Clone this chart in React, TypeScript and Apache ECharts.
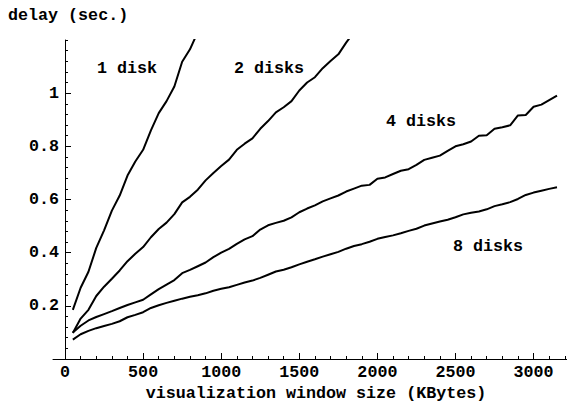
import React, { useEffect, useRef } from 'react';
import * as echarts from 'echarts';

// Window sizes (KBytes) at which delays were measured
const windowSizes = [
  50, 100, 150, 200, 250, 300, 350, 400, 450, 500, 550, 600, 650, 700, 750, 800,
  850, 900, 950, 1000, 1050, 1100, 1150, 1200, 1250, 1300, 1350, 1400, 1450, 1500,
  1550, 1600, 1650, 1700, 1750, 1800, 1850, 1900, 1950, 2000, 2050, 2100, 2150,
  2200, 2250, 2300, 2350, 2400, 2450, 2500, 2550, 2600, 2650, 2700, 2750, 2800,
  2850, 2900, 2950, 3000, 3050, 3100, 3150,
];

// delay (sec.) per configuration
const disk1 = [
  0.185, 0.268, 0.328, 0.418, 0.484, 0.558, 0.615, 0.69, 0.743, 0.787, 0.86, 0.925,
  0.97, 1.025, 1.118, 1.165, 1.23,
];
const disk2 = [
  0.098, 0.152, 0.185, 0.237, 0.272, 0.302, 0.333, 0.368, 0.396, 0.421, 0.458, 0.489,
  0.513, 0.545, 0.589, 0.61, 0.637, 0.672, 0.7, 0.726, 0.75, 0.787, 0.81, 0.83, 0.866,
  0.895, 0.928, 0.947, 0.97, 1.01, 1.04, 1.06, 1.094, 1.121, 1.146, 1.19, 1.23,
];
const disk4 = [
  0.1, 0.125, 0.145, 0.158, 0.169, 0.18, 0.192, 0.203, 0.213, 0.223, 0.243, 0.263,
  0.28, 0.297, 0.323, 0.335, 0.349, 0.363, 0.383, 0.4, 0.414, 0.433, 0.45, 0.462,
  0.487, 0.503, 0.512, 0.52, 0.533, 0.552, 0.566, 0.578, 0.593, 0.604, 0.615, 0.63,
  0.641, 0.652, 0.655, 0.678, 0.683, 0.696, 0.708, 0.714, 0.73, 0.749, 0.757, 0.765,
  0.783, 0.8, 0.808, 0.818, 0.84, 0.842, 0.866, 0.872, 0.879, 0.916, 0.918, 0.949,
  0.957, 0.974, 0.991,
];
const disk8 = [
  0.073, 0.093, 0.106, 0.116, 0.124, 0.132, 0.142, 0.157, 0.166, 0.176, 0.192, 0.202,
  0.211, 0.219, 0.227, 0.234, 0.24, 0.247, 0.257, 0.264, 0.27, 0.279, 0.288, 0.295,
  0.305, 0.317, 0.329, 0.336, 0.345, 0.356, 0.366, 0.375, 0.385, 0.394, 0.403, 0.415,
  0.425, 0.432, 0.441, 0.452, 0.459, 0.465, 0.473, 0.482, 0.49, 0.502, 0.51, 0.517,
  0.524, 0.533, 0.544, 0.55, 0.555, 0.563, 0.575, 0.582, 0.59, 0.602, 0.617, 0.626,
  0.633, 0.64, 0.646,
];

const seriesNames = ['1 disk', '2 disks', '4 disks', '8 disks'];

// Tick positions
const xMajorTicks = [0, 500, 1000, 1500, 2000, 2500, 3000];
const xMinorTicks = [
  0, 100, 200, 300, 400, 500, 600, 700, 800, 900, 1000, 1100, 1200, 1300, 1400, 1500,
  1600, 1700, 1800, 1900, 2000, 2100, 2200, 2300, 2400, 2500, 2600, 2700, 2800, 2900,
  3000, 3100, 3200,
];
const yMajorTicks = [0.2, 0.4, 0.6, 0.8, 1];
const yMinorTicks = [
  0.04, 0.08, 0.12, 0.16, 0.2, 0.24, 0.28, 0.32, 0.36, 0.4, 0.44, 0.48, 0.52, 0.56,
  0.6, 0.64, 0.68, 0.72, 0.76, 0.8, 0.84, 0.88, 0.92, 0.96, 1, 1.04, 1.08, 1.12, 1.16,
  1.2,
];

const FONT = "'Liberation Mono', 'Courier New', monospace";
const FS = 16.7;

export default function App() {
  const ref = useRef<HTMLDivElement>(null);

  useEffect(() => {
    if (!ref.current) return;
    const chart = echarts.init(ref.current, undefined, { renderer: 'svg' });
    const all = [disk1, disk2, disk4, disk8];
    const textStyle = { fontFamily: FONT, fontWeight: 'bold' as const, fontSize: FS, fill: '#000' };
    chart.setOption({
      animation: false,
      backgroundColor: '#fff',
      grid: { left: 53, right: 0, top: 40, bottom: 43, containLabel: false },
      xAxis: [
        {
          type: 'value',
          min: -77,
          max: 3214,
          position: 'bottom',
          axisLine: { show: true, lineStyle: { color: '#000', width: 1 } },
          axisTick: { show: true, inside: true, length: 3, customValues: xMinorTicks, lineStyle: { color: '#000' } },
          axisLabel: { show: false },
          splitLine: { show: false },
        },
        {
          type: 'value',
          min: -77,
          max: 3214,
          position: 'bottom',
          axisLine: { show: true, lineStyle: { color: 'rgba(0,0,0,0)' } },
          axisTick: { show: true, inside: true, length: 6, customValues: xMajorTicks, lineStyle: { color: '#000' } },
          axisLabel: {
            show: true,
            customValues: xMajorTicks,
            formatter: (v: number) => String(v),
            margin: 5,
            color: '#000',
            fontFamily: FONT,
            fontWeight: 'bold',
            fontSize: FS,
          },
          splitLine: { show: false },
        },
      ],
      yAxis: [
        {
          type: 'value',
          min: 0,
          max: 1.2,
          position: 'left',
          axisLine: { show: true, onZero: true, onZeroAxisIndex: 0, lineStyle: { color: '#000', width: 1 } },
          axisTick: { show: true, inside: true, length: 3, customValues: yMinorTicks, lineStyle: { color: '#000' } },
          axisLabel: { show: false },
          splitLine: { show: false },
        },
        {
          type: 'value',
          min: 0,
          max: 1.2,
          position: 'left',
          offset: -12,
          axisLine: { show: false, onZero: false },
          axisTick: { show: true, inside: true, length: 6, customValues: yMajorTicks, lineStyle: { color: '#000' } },
          axisLabel: {
            show: true,
            customValues: yMajorTicks,
            formatter: (v: number) => String(v),
            margin: 6,
            color: '#000',
            fontFamily: FONT,
            fontWeight: 'bold',
            fontSize: FS,
          },
          splitLine: { show: false },
        },
      ],
      series: all.map((vals, i) => ({
        name: seriesNames[i],
        type: 'line',
        xAxisIndex: 0,
        yAxisIndex: 0,
        data: vals.map((v, j) => [windowSizes[j], v]),
        showSymbol: false,
        symbol: 'none',
        clip: true,
        lineStyle: { color: '#000', width: 2 },
        itemStyle: { color: '#000' },
      })),
      graphic: [
        { type: 'text', x: 8, y: 15, style: { ...textStyle, text: 'delay (sec.)', align: 'left', verticalAlign: 'middle' } },
        { type: 'text', x: 316, y: 393, style: { ...textStyle, text: 'visualization window size (KBytes)', align: 'center', verticalAlign: 'middle' } },
        { type: 'text', x: 97, y: 68, style: { ...textStyle, text: seriesNames[0], align: 'left', verticalAlign: 'middle' } },
        { type: 'text', x: 234, y: 68, style: { ...textStyle, text: seriesNames[1], align: 'left', verticalAlign: 'middle' } },
        { type: 'text', x: 386, y: 121, style: { ...textStyle, text: seriesNames[2], align: 'left', verticalAlign: 'middle' } },
        { type: 'text', x: 453, y: 246, style: { ...textStyle, text: seriesNames[3], align: 'left', verticalAlign: 'middle' } },
      ],
    });
    return () => chart.dispose();
  }, []);

  return <div ref={ref} style={{ position: 'absolute', left: 0, top: 0, width: 567, height: 402 }} />;
}
